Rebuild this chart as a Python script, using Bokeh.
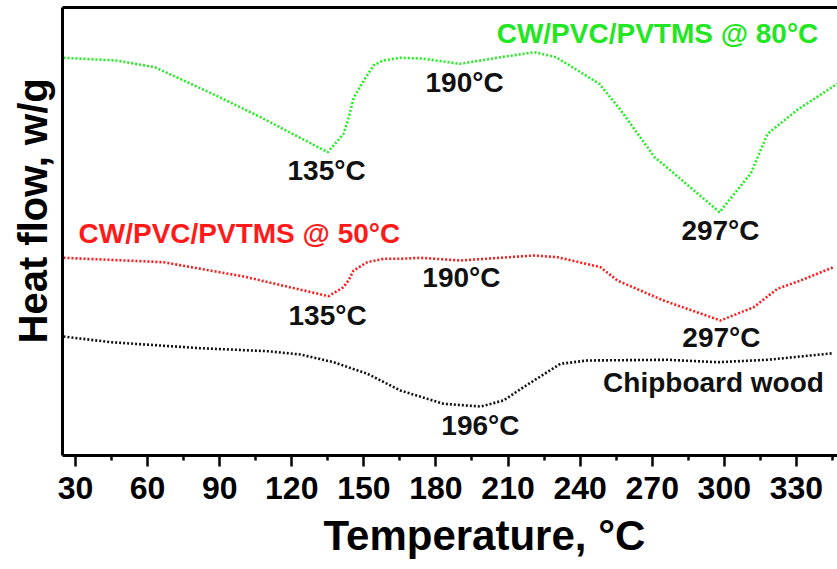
from bokeh.plotting import figure
from bokeh.models import Range1d, LinearAxis, FixedTicker, ColumnDataSource, Title
from bokeh.core.properties import value
from bokeh.embed import file_html
from bokeh.resources import INLINE

# ---- data (temperature in °C, heat flow in arbitrary units, curves offset) ----
t_80 = [25, 47, 63, 87, 107, 135, 141.6, 143.7, 145.8, 150, 154, 158, 165, 174, 190,
        207, 221, 230, 248, 257, 271, 276, 298, 311, 318, 330, 347]
hf_80 = [3.977, 3.95, 3.883, 3.617, 3.383, 3.033, 3.22, 3.38, 3.58, 3.75, 3.90, 3.95,
         3.977, 3.97, 3.917, 3.983, 4.033, 3.983, 3.717, 3.45, 2.983, 2.883, 2.433,
         2.82, 3.217, 3.45, 3.717]

t_50 = [25, 66.6, 100, 135.3, 141.5, 143.6, 145.7, 151.5, 158.2, 165, 173.6, 190.2,
        220.6, 230.6, 248.5, 255.5, 274.7, 298.4, 312.2, 322.1, 331.7, 345.4]
hf_50 = [1.977, 1.933, 1.79, 1.593, 1.683, 1.75, 1.85, 1.933, 1.967, 1.967, 1.977,
         1.95, 2.0, 1.983, 1.883, 1.75, 1.55, 1.35, 1.483, 1.667, 1.75, 1.883]

t_cw = [25, 44.6, 82, 110, 123.6, 137.4, 151.5, 165.2, 183.1, 198.5, 208.1, 216.4,
        231.8, 243, 276.4, 297.2, 318, 345.4]
hf_cw = [1.19, 1.133, 1.073, 1.043, 1.01, 0.933, 0.817, 0.65, 0.517, 0.49, 0.55,
         0.683, 0.917, 0.95, 0.957, 0.933, 0.957, 1.023]

x_ticks = [30, 60, 90, 120, 150, 180, 210, 240, 270, 300, 330]
x_minor = [45, 75, 105, 135, 165, 195, 225, 255, 285, 315, 345]

# annotations: text, T, heat flow, colour
ann_text = ["CW/PVC/PVTMS @ 80°C", "CW/PVC/PVTMS @ 50°C", "135°C", "190°C", "297°C",
            "190°C", "135°C", "297°C", "Chipboard wood", "196°C"]
ann_x = [272.2, 98.2, 134.5, 191.9, 298.4, 190.6, 134.9, 298.8, 295.5, 198.5]
ann_y = [4.22, 2.22, 2.85, 3.73, 2.25, 1.78, 1.40, 1.18, 0.73, 0.30]
ann_color = ["#22e622", "#ff1a1a", "#111111", "#111111", "#111111", "#111111",
             "#111111", "#111111", "#111111", "#111111"]

FONT = "Liberation Sans"

p = figure(width=837, height=569, output_backend="svg", toolbar_location=None,
           x_range=Range1d(24.59, 347.1), y_range=Range1d(0, 4.48),
           min_border_left=62, min_border_right=0, min_border_top=7, min_border_bottom=114,
           x_axis_location=None, y_axis_location=None)
p.outline_line_color = None
p.grid.visible = False
p.background_fill_color = "white"
p.border_fill_color = "white"

# bottom axis
xa = LinearAxis(ticker=FixedTicker(ticks=x_ticks, minor_ticks=x_minor))
xa.axis_line_width = 3
xa.axis_line_color = "black"
xa.major_tick_line_width = 2.5
xa.minor_tick_line_width = 2.5
xa.major_tick_out = 11
xa.major_tick_in = 0
xa.minor_tick_out = 5
xa.minor_tick_in = 0
xa.major_label_text_font = FONT
xa.major_label_text_font_style = "bold"
xa.major_label_text_font_size = "32px"
xa.major_label_text_color = "black"
xa.major_label_standoff = 10
p.add_layout(xa, "below")

# left axis (line only)
ya = LinearAxis(ticker=FixedTicker(ticks=[]))
ya.axis_line_width = 3
ya.axis_line_color = "black"
ya.major_tick_out = 0
ya.minor_tick_out = 0
ya.major_label_text_font_size = "0px"
ya.major_label_standoff = 0
p.add_layout(ya, "left")

# top axis (line only)
ta = LinearAxis(ticker=FixedTicker(ticks=[]))
ta.axis_line_width = 3
ta.axis_line_color = "black"
ta.major_tick_out = 0
ta.minor_tick_out = 0
ta.major_label_text_font_size = "0px"
ta.major_label_standoff = 0
p.add_layout(ta, "above")

# axis titles
p.add_layout(Title(text="Temperature, °C", align="left", offset=261, standoff=16,
                   text_font=FONT, text_font_style="bold", text_font_size="42px",
                   text_color="black"), "below")
p.add_layout(Title(text="Heat flow, w/g", align="left", offset=112, standoff=16,
                   text_font=FONT, text_font_style="bold", text_font_size="40px",
                   text_color="black"), "left")

# curves
p.line(t_80, hf_80, line_color="#22ee22", line_width=2.6, line_dash="2 2")
p.line(t_50, hf_50, line_color="#ff1a1a", line_width=2.6, line_dash="2 2")
p.line(t_cw, hf_cw, line_color="#111111", line_width=2.6, line_dash="2 2")

# annotations
src = ColumnDataSource(dict(x=ann_x, y=ann_y, text=ann_text, color=ann_color))
p.text(x="x", y="y", text="text", source=src, text_color="color",
       text_font=value(FONT), text_font_style="bold", text_font_size="28px",
       text_align="center", text_baseline="middle")

open("out.html", "w").write(file_html(p, INLINE))
